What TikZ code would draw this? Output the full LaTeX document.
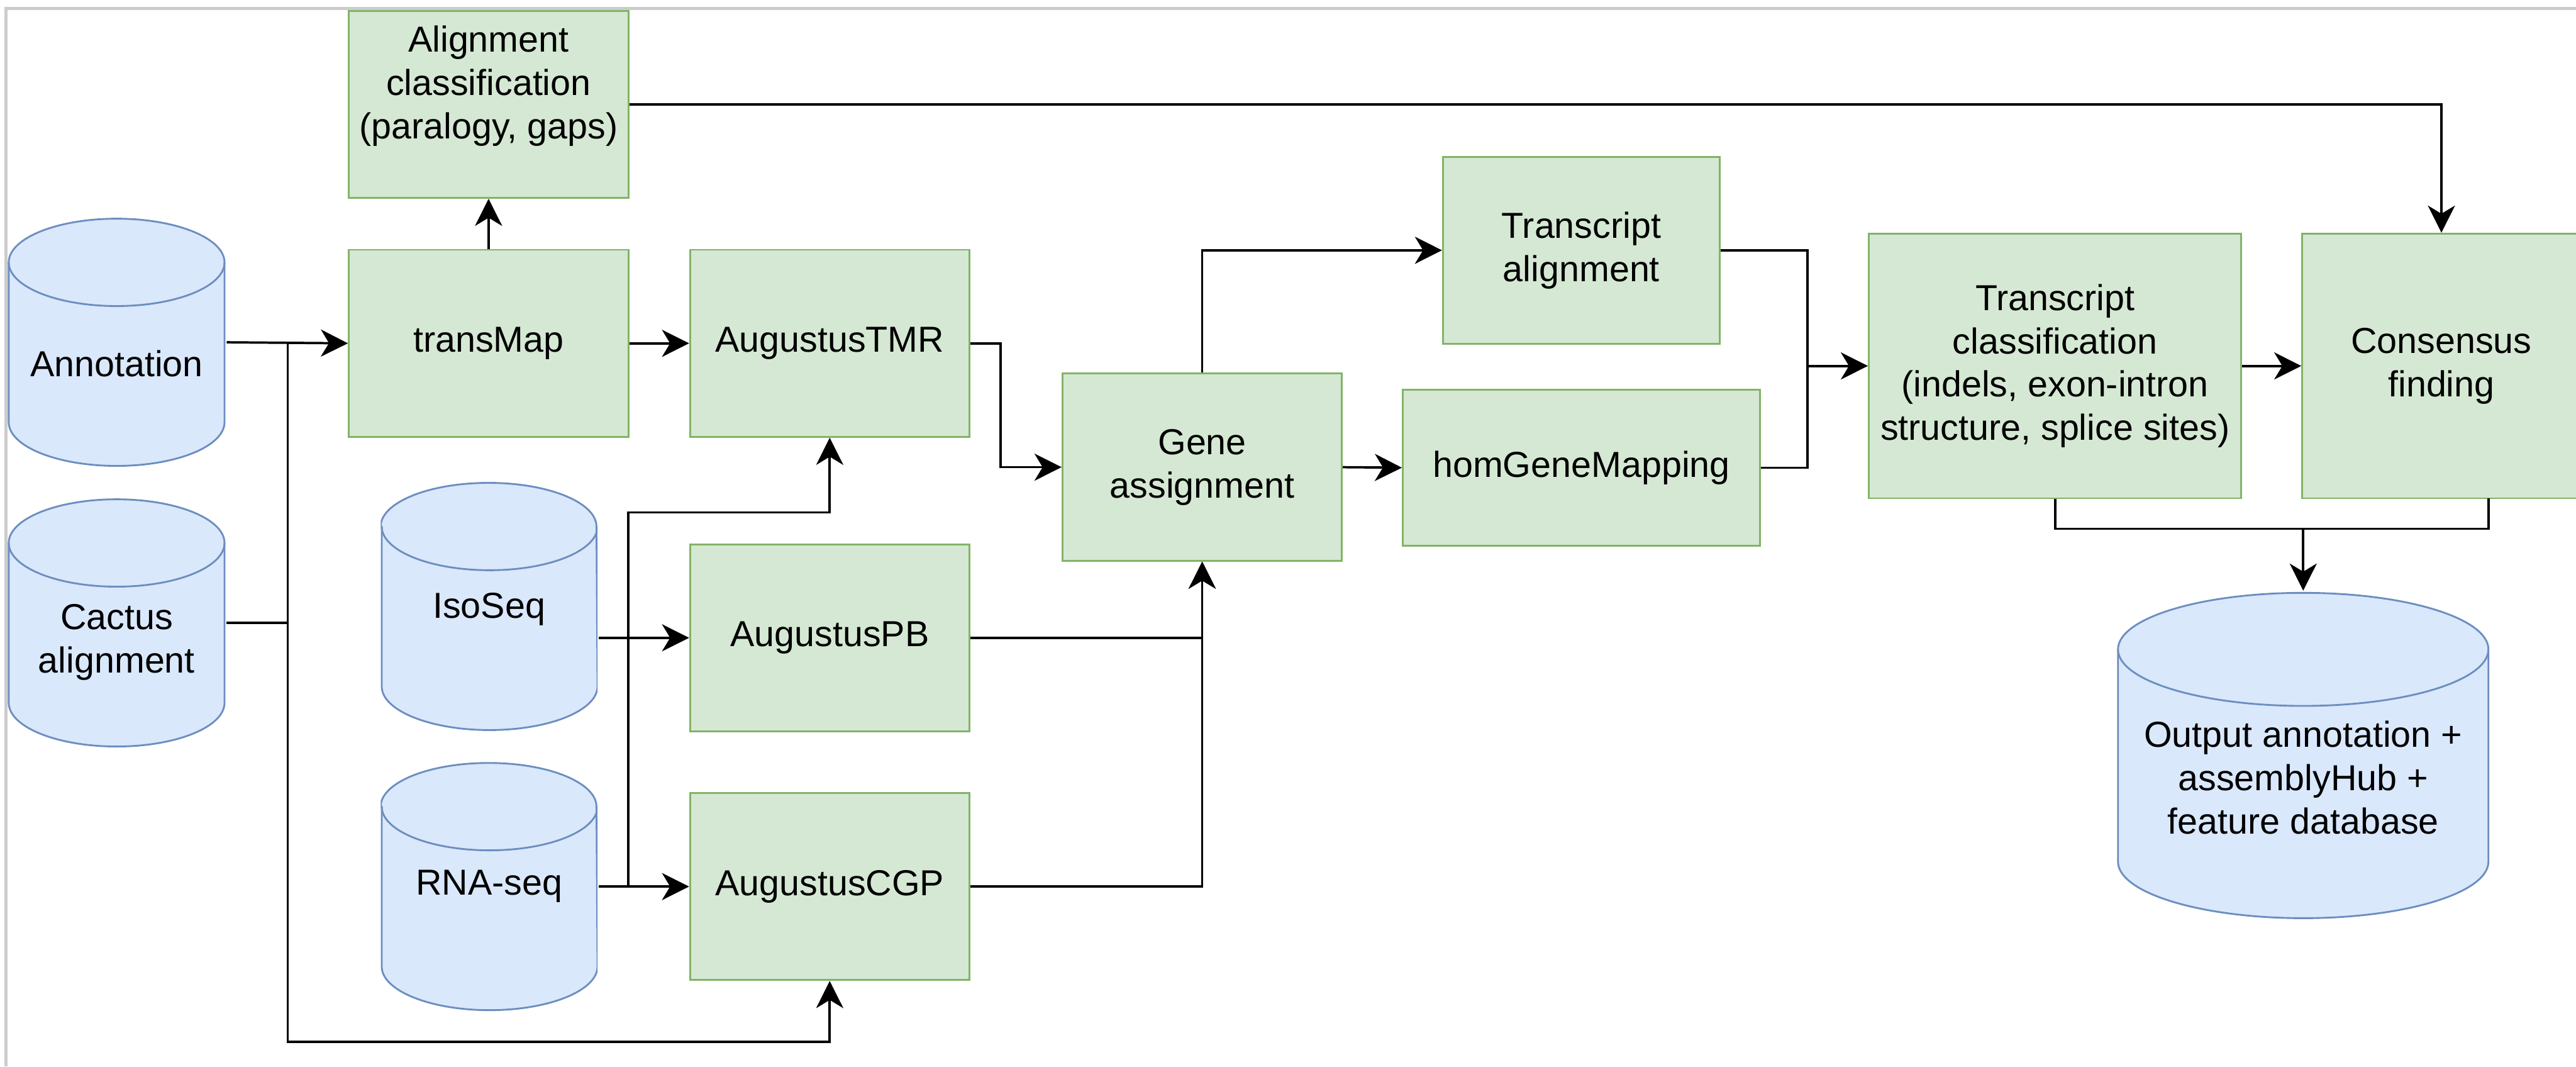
\documentclass[tikz,border=0pt]{standalone}
\usepackage{fontspec}
\setmainfont{Liberation Sans}
\usetikzlibrary{arrows.meta}

\definecolor{stepfill}{HTML}{D5E8D4}
\definecolor{stepdraw}{HTML}{82B366}
\definecolor{dbfill}{HTML}{DAE8FC}
\definecolor{dbdraw}{HTML}{6C8EBF}
\definecolor{framegray}{HTML}{CCCCCC}

\tikzset{
	db rx/.store in=\dbrx,
	db ry/.store in=\dbry,
	basenode/.style = {
		align=center,
		inner sep=0pt,
		font=\fontsize{20}{24}\selectfont
	},
	node_step/.style = {
		basenode,
		rectangle,
		draw=stepdraw,
		fill=stepfill,
		line width=1pt,
		minimum width=5.44cm,
		minimum height=3.64cm
	},
	node_step_tall/.style = {
		node_step,
		minimum height=5.15cm
	},
	node_db/.style = {
		basenode,
		rectangle,
		minimum width=4.24cm,
		minimum height=4.85cm,
		db rx=2.10cm,
		db ry=0.85cm,
		path picture={
			\draw [-, draw=dbdraw, fill=dbfill, line width=1pt]
				([xshift=0.02cm, yshift=-0.02cm-\dbry]path picture bounding box.north west)
				-- ([xshift=0.02cm, yshift=0.02cm+\dbry]path picture bounding box.south west)
				arc [start angle=180, end angle=360, x radius=\dbrx, y radius=\dbry]
				-- ([xshift=-0.02cm, yshift=-0.02cm-\dbry]path picture bounding box.north east)
				arc [start angle=0, end angle=180, x radius=\dbrx, y radius=\dbry]
				-- cycle;
			\draw [-, draw=dbdraw, line width=1pt]
				([xshift=0.02cm, yshift=-0.02cm-\dbry]path picture bounding box.north west)
				arc [start angle=180, end angle=360, x radius=\dbrx, y radius=\dbry];
		}
	},
}

\begin{document}
\begin{tikzpicture}[->,>={Stealth[length=15pt,width=15pt,inset=4.5pt]}, line width=1.3pt]
\useasboundingbox (0,0) rectangle (50.14,-20.75);
\clip (0,0) rectangle (50.14,-20.75);
\draw [-, framegray, line width=1.7pt] (0.12,-20.75) -- (0.12,-0.16) -- (50.14,-0.16);

% inputs
\node [node_db, label={[basenode, yshift=-0.42cm]center:{Annotation}}] (annot) at (2.27,-6.66) {};
\node [node_db, label={[basenode, yshift=-0.38cm]center:{Cactus\\alignment}}] (cactus) at (2.27,-12.12) {};
\node [node_db, minimum width=4.22cm, label={[basenode, yshift=-0.05cm]center:{IsoSeq}}] (isoseq) at (9.52,-11.80) {};
\node [node_db, minimum width=4.22cm, label={[basenode]center:{RNA-seq}}] (rnaseq) at (9.52,-17.25) {};

% pipeline steps
\node [node_step, label={[basenode, yshift=0.36cm]center:{Alignment\\classification\\(paralogy, gaps)}}] (aligncls) at (9.51,-2.03) {};
\node [node_step] (transmap) at (9.51,-6.68) {transMap};
\node [node_step] (augtmr) at (16.15,-6.68) {AugustusTMR};
\node [node_step] (augpb) at (16.15,-12.41) {AugustusPB};
\node [node_step] (augcgp) at (16.15,-17.25) {AugustusCGP};
\node [node_step] (geneasg) at (23.40,-9.09) {Gene\\assignment};
\node [node_step, minimum width=5.39cm] (tralign) at (30.78,-4.87) {Transcript\\alignment};
\node [node_step, minimum width=6.95cm, minimum height=3.03cm] (homgene) at (30.78,-9.10) {homGeneMapping};
\node [node_step_tall, minimum width=7.25cm] (trclass) at (40.00,-7.12) {Transcript\\classification\\(indels, exon-intron\\structure, splice sites)};
\node [node_step_tall, minimum width=5.42cm] (consensus) at (47.52,-7.12) {Consensus\\finding};

% output
\node [node_db, minimum width=7.25cm, minimum height=6.37cm, db rx=3.605cm, db ry=1.10cm,
	label={[basenode, yshift=-0.43cm]center:{Output annotation +\\assemblyHub +\\feature database}}] (output) at (44.83,-14.70) {};

% bends
\coordinate (jleft) at (5.60,-6.68);
\coordinate (jbottom) at (5.60,-20.27);
\coordinate (jrna) at (12.23,-17.25);
\coordinate (jtmr) at (12.23,-9.97);
\coordinate (jmerge) at (35.18,-7.12);
\coordinate (jout) at (44.83,-10.29);
\coordinate (consout) at (48.44,-9.70);

\draw (annot.east) -- (transmap.west);
\draw [-] (cactus.east) -| (jleft);
\draw (jleft) -- (jbottom) -| (augcgp.south);
\draw (transmap.east) -- (augtmr.west);
\draw (transmap.north) -- (aligncls.south);
\draw (aligncls.east) -| (consensus.north);
\draw (isoseq.east |- augpb.west) -- (augpb.west);
\draw (rnaseq.east) -- (augcgp.west);
\draw (jrna) -- (jtmr) -| (augtmr.south);
\draw (augtmr.east) -- ++(0.59,0) |- (geneasg.west);
\draw (augpb.east) -| (geneasg.south);
\draw (augcgp.east) -| (geneasg.south);
\draw (geneasg.north) |- (tralign.west);
\draw (geneasg.east) -- (homgene.west);
\draw [-] (tralign.east) -| (jmerge);
\draw (homgene.east) -| (jmerge) -- (trclass.west);
\draw (trclass.east) -- (consensus.west);
\draw [-] (trclass.south) |- (jout);
\draw (consout) |- (jout) -- (output.north);
\end{tikzpicture}
\end{document}
